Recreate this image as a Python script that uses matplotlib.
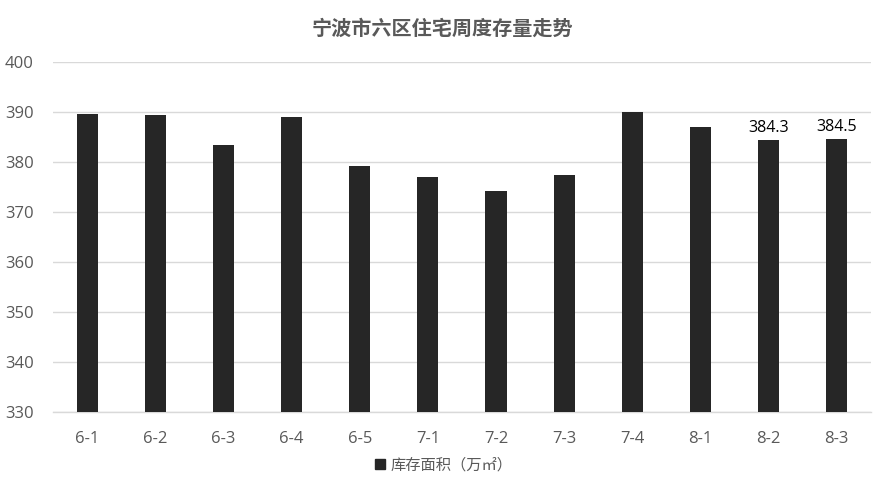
import matplotlib
matplotlib.use("Agg")
import matplotlib.pyplot as plt
from matplotlib.lines import Line2D

plt.rcParams['font.family'] = ['Noto Sans CJK SC', 'DejaVu Sans']

categories = ["6-1", "6-2", "6-3", "6-4", "6-5", "7-1", "7-2", "7-3", "7-4", "8-1", "8-2", "8-3"]
values = [389.5, 389.3, 383.3, 388.9, 379.1, 376.9, 374.1, 377.3, 389.9, 386.9, 384.3, 384.5]
labeled = {"8-2": "384.3", "8-3": "384.5"}
title = "宁波市六区住宅周度存量走势"
series_name = "库存面积（万㎡）"
yticks = [330, 340, 350, 360, 370, 380, 390, 400]

bar_color = "#262626"
text_color = "#595959"
grid_color = "#d9d9d9"

fig = plt.figure(figsize=(8.85, 4.88), dpi=100)
ax = fig.add_axes([0.060, 0.156, 0.924, 0.717])

x = list(range(len(categories)))
bottom = yticks[0]
ax.bar(x, [v - bottom for v in values], bottom=bottom, width=0.31, color=bar_color, zorder=3)

for i, (c, v) in enumerate(zip(categories, values)):
    if c in labeled:
        ax.text(i, v + 0.8, labeled[c], ha="center", va="bottom", fontsize=11.5, color="#000000",
                family=["Open Sans", "DejaVu Sans"])

ax.set_ylim(yticks[0], yticks[-1])
ax.set_xlim(-0.5, len(categories) - 0.5)
ax.set_yticks(yticks)
ax.set_xticks(x)
ax.set_xticklabels(categories)
ax.yaxis.grid(True, color=grid_color, linewidth=1, zorder=0)
ax.set_axisbelow(True)
for s in ["top", "right", "left"]:
    ax.spines[s].set_visible(False)
ax.spines["bottom"].set_color(grid_color)
ax.spines["bottom"].set_linewidth(1)
ax.tick_params(axis="both", length=0, colors=text_color, labelsize=12)
ax.tick_params(axis="x", pad=14)
ax.tick_params(axis="y", pad=14)
for lbl in ax.get_xticklabels() + ax.get_yticklabels():
    lbl.set_family(["Open Sans", "DejaVu Sans"])

fig.text(0.5, 0.943, title, ha="center", va="center", fontsize=14.5, fontweight="bold", color=text_color)

handle = Line2D([], [], marker="s", linestyle="none", markersize=7, color=bar_color)
fig.legend([handle], [series_name], loc="center", bbox_to_anchor=(0.5, 0.047), frameon=False,
           fontsize=11, labelcolor=text_color, handletextpad=0.2, handlelength=1.0)

fig.savefig("out.png", dpi=100)
